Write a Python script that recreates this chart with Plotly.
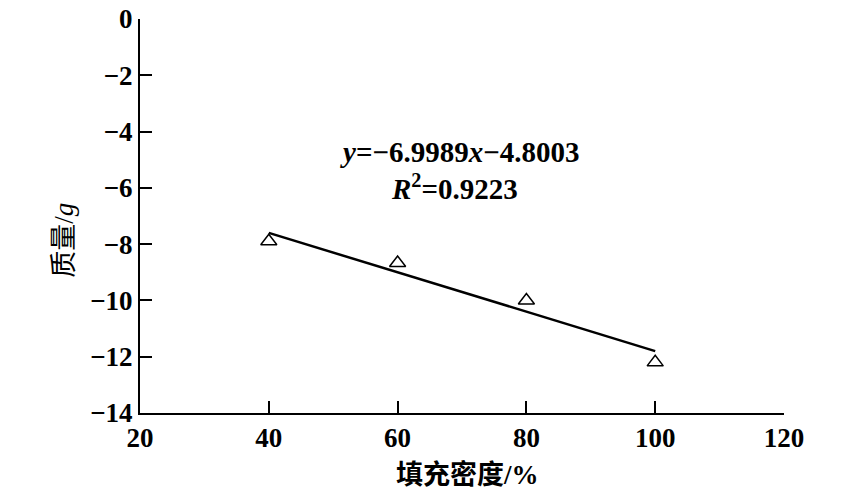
import plotly.graph_objects as go

# data
density = [40, 60, 80, 100]
mass = [-7.9, -8.67, -10.0, -12.2]
trend_x = [40, 100]
trend_y = [-7.6, -11.8]
x_ticks = [20, 40, 60, 80, 100, 120]
y_ticks = [0, -2, -4, -6, -8, -10, -12, -14]

serif = "Liberation Serif, Times New Roman, serif"
cjk = "Noto Sans CJK SC"

fig = go.Figure()
fig.add_trace(go.Scatter(x=trend_x, y=trend_y, mode="lines",
                         line=dict(color="black", width=2.5), showlegend=False))
fig.add_trace(go.Scatter(x=density, y=mass, mode="markers",
                         marker=dict(symbol="triangle-up-open", size=14, color="black",
                                     line=dict(width=1.5, color="black")),
                         showlegend=False))

fig.add_annotation(x=0.496, y=0.662, xref="paper", yref="paper", showarrow=False,
                   text="<b><i>y</i>=−6.9989<i>x</i>−4.8003</b>",
                   font=dict(family=serif, size=29, color="black"))
fig.add_annotation(x=0.489, y=0.574, xref="paper", yref="paper", showarrow=False,
                   text="<b><i>R</i><sup>2</sup>=0.9223</b>",
                   font=dict(family=serif, size=29, color="black"))
fig.add_annotation(x=0.509, y=-0.152, xref="paper", yref="paper", showarrow=False,
                   yanchor="middle",
                   text="<b>填充密度<span style='font-family:Liberation Serif'>/%</span></b>",
                   font=dict(family=cjk, size=27, color="black"))
fig.add_annotation(x=-0.123, y=0.439, xref="paper", yref="paper", showarrow=False,
                   xanchor="center", yanchor="middle", textangle=-90,
                   text="质量<span style='font-family:Liberation Serif'>/<i>g</i></span>",
                   font=dict(family=cjk, size=27, color="black"))

fig.update_layout(
    width=854, height=494,
    margin=dict(l=132, r=78, t=11, b=89),
    paper_bgcolor="white", plot_bgcolor="white",
    xaxis=dict(range=[20, 120], tickvals=x_ticks, ticks="inside", ticklen=12,
               tickwidth=1.5, tickcolor="black", showline=True, linecolor="black",
               linewidth=2, showgrid=False, zeroline=False, automargin=False,
               ticklabeloverflow="allow",
               tickfont=dict(family=serif, size=27, color="black", weight="bold")),
    yaxis=dict(range=[-14, 0], tickvals=y_ticks, ticks="inside", ticklen=12,
               tickwidth=1.5, tickcolor="black", showline=True, linecolor="black",
               linewidth=2, showgrid=False, zeroline=False, automargin=False,
               ticklabeloverflow="allow",
               tickfont=dict(family=serif, size=27, color="black", weight="bold")),
)
fig.write_html("out.html")
